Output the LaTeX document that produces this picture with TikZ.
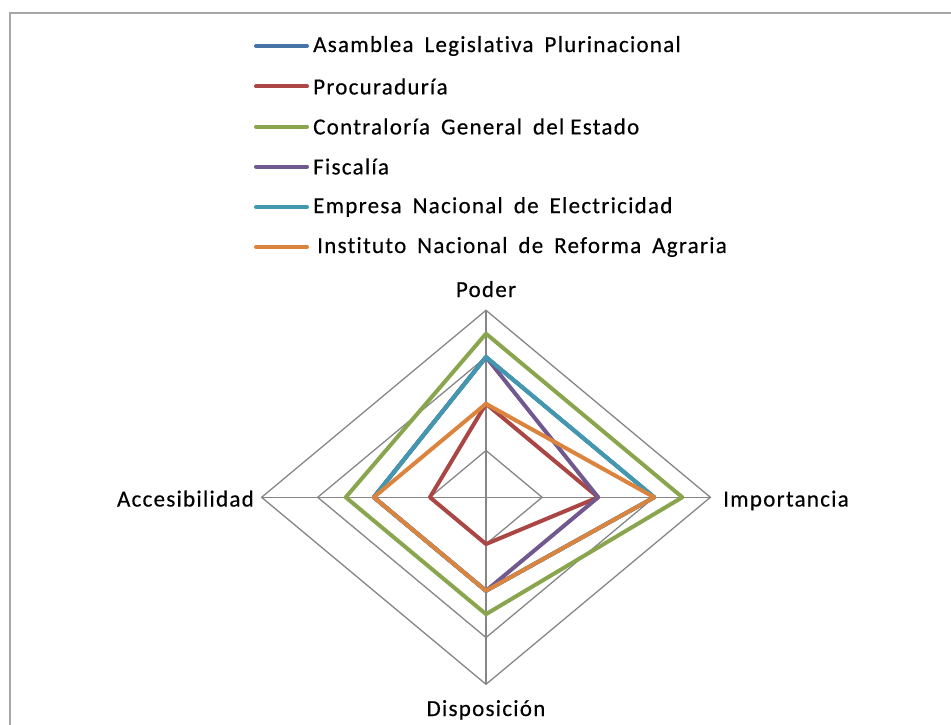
\documentclass[tikz,border=0pt]{standalone}
\usepackage{fontspec}
\setmainfont{Carlito}[LetterSpace=5.5,Ligatures={NoCommon},FakeBold=0.4,WordSpace=1.7]
\definecolor{sBlue}{HTML}{4572A7}
\definecolor{sRed}{HTML}{AA4643}
\definecolor{sGreen}{HTML}{89A54E}
\definecolor{sPurple}{HTML}{71588F}
\definecolor{sCyan}{HTML}{4198AF}
\definecolor{sOrange}{HTML}{DB843D}
\definecolor{gridgray}{HTML}{868686}
\newcommand{\rdr}[5]{\draw[series,#1] (486,{497.3-46.75*#2}) -- ({486+56.1*#3},497.3) -- (486,{497.3+46.75*#4}) -- ({486-56.1*#5},497.3) -- cycle;}
\begin{document}
\begin{tikzpicture}[x=1pt,y=-1pt,
  gridline/.style={draw=gridgray,line width=1.3pt},
  series/.style={line width=4pt,line join=round},
  legline/.style={line width=4pt,line cap=round},
  lab/.style={font=\fontsize{23}{26}\selectfont,inner sep=0pt},
  legtext/.style={font=\fontsize{23}{26}\selectfont,inner sep=0pt,anchor=west}]
\useasboundingbox (0,0) rectangle (951,725);
\draw[draw=gray!70,line width=2pt] (9.5,725) -- (9.5,13.5) -- (951,13.5);
% grid
\foreach \k in {1,2,3,4}{
  \draw[gridline] (486,{497.3-46.75*\k}) -- ({486+56.1*\k},497.3) -- (486,{497.3+46.75*\k}) -- ({486-56.1*\k},497.3) -- cycle;
}
\draw[gridline] (486,310.3) -- (486,684.3);
\draw[gridline] (261.6,497.3) -- (710.4,497.3);
% series
\rdr{sBlue}{3}{3}{2}{2}
\rdr{sRed}{2}{2}{1}{1}
\rdr{sGreen}{3.5}{3.5}{2.5}{2.5}
\rdr{sPurple}{3}{2}{2}{2}
\rdr{sCyan}{3}{3}{2}{2}
\rdr{sOrange}{2}{3}{2}{2}
% axis labels
\node[lab,anchor=base] (poder) at (486,297) {Poder};
\node[lab,anchor=base west] (imp) at (723,506.5) {Importancia};
\node[lab,anchor=base east] (acc) at (254,506.5) {Accesibilidad};
\node[lab,anchor=base] (disp) at (486,716) {Disposición};
% legend
\foreach \yy/\cc/\tt/\nm/\dx in {46/sBlue/Asamblea Legislativa Plurinacional/l1/0,
  86.5/sRed/Procuraduría/l2/0,
  126.5/sGreen/Contraloría General del\kern6pt Estado/l3/0,
  166.5/sPurple/Fiscalía/l4/0,
  207/sCyan/Empresa Nacional de Electricidad/l5/0,
  247/sOrange/Instituto Nacional de Reforma Agraria/l6/4}{
  \coordinate (\nm a) at (256,\yy);
  \coordinate (\nm b) at (307,\yy);
  \draw[legline,\cc] (\nm a) -- (\nm b);
  \node[legtext] (\nm t) at ({313+\dx},\yy) {\tt};
}
\end{tikzpicture}
\end{document}
